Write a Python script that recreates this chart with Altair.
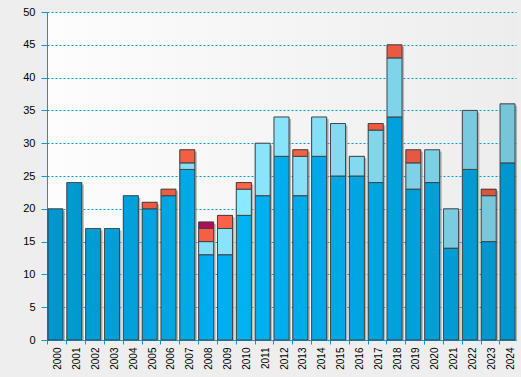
import altair as alt
import pandas as pd

years = ["2000", "2001", "2002", "2003", "2004", "2005", "2006", "2007", "2008",
         "2009", "2010", "2011", "2012", "2013", "2014", "2015", "2016", "2017",
         "2018", "2019", "2020", "2021", "2022", "2023", "2024"]
base_vals = [20, 24, 17, 17, 22, 20, 22, 26, 13, 13, 19, 22, 28, 22, 28, 25, 25, 24, 34, 23, 24, 14, 26, 15, 27]
light_vals = [0, 0, 0, 0, 0, 0, 0, 1, 2, 4, 4, 8, 6, 6, 6, 8, 3, 8, 9, 4, 5, 6, 9, 7, 9]
red_vals = [0, 0, 0, 0, 0, 1, 1, 2, 2, 2, 1, 0, 0, 1, 0, 0, 0, 1, 2, 2, 0, 0, 0, 1, 0]
crimson_vals = [0, 0, 0, 0, 0, 0, 0, 0, 1, 0, 0, 0, 0, 0, 0, 0, 0, 0, 0, 0, 0, 0, 0, 0, 0]
series_names = ["S1", "S2", "S3", "S4"]
series_colors = ["#00B2F2", "#8CE8FF", "#FF6347", "#B0105A"]
y_ticks = [0, 5, 10, 15, 20, 25, 30, 35, 40, 45, 50]

rows = []
for i, yr in enumerate(years):
    for k, vals in enumerate([base_vals, light_vals, red_vals, crimson_vals]):
        rows.append({"year": yr, "yr": int(yr), "series": series_names[k], "ord": k, "value": vals[i]})
df = pd.DataFrame(rows)

W, H = 469, 328
BLUE = "#0A96DC"

x_enc = alt.X(
    "year:O", sort=years,
    scale=alt.Scale(paddingInner=0.2, paddingOuter=0.05),
    axis=alt.Axis(title=None, labelAngle=270, labelAlign="right", labelBaseline="middle",
                  bandPosition=0, labelOffset=3, tickSize=4, labelPadding=3,
                  grid=False, domainColor=BLUE, tickColor=BLUE, labelFontSize=10),
)
y_scale = alt.Scale(domain=[0, 50], nice=False)
y_axis = alt.Axis(title=None, values=y_ticks, grid=True, gridColor=BLUE, gridDash=[2, 2],
                  gridWidth=1, tickSize=6, labelPadding=6, domainColor=BLUE, tickColor=BLUE,
                  labelFontSize=11)

basechart = alt.Chart(df).transform_filter("datum.value > 0")

shadow = basechart.mark_bar(color="#8C8C8C", opacity=0.6, xOffset=2, yOffset=2).encode(
    x=x_enc,
    y=alt.Y("sum(value):Q", scale=y_scale, axis=y_axis),
)
under = basechart.mark_bar(color="#000000").encode(
    x=x_enc,
    y=alt.Y("sum(value):Q", scale=y_scale, axis=y_axis),
)
bars = basechart.mark_bar(stroke="#444444", strokeWidth=1).encode(
    x=x_enc,
    y=alt.Y("value:Q", stack="zero", scale=y_scale, axis=y_axis),
    color=alt.Color("series:N", scale=alt.Scale(domain=series_names, range=series_colors), legend=None),
    order=alt.Order("ord:Q", sort="ascending"),
    opacity=alt.Opacity("yr:Q", scale=alt.Scale(domain=[2000, 2010, 2024], range=[0.85, 1.0, 0.85]), legend=None),
)

bg_expr = ("{gradient: 'linear', x1: 0, y1: 0, x2: 1, y2: 0, "
           "stops: [{offset: 0, color: '#FDFDFD'}, {offset: 1, color: '#EDEDED'}]}")

chart = alt.layer(shadow, under, bars).properties(
    width=W, height=H,
    autosize=alt.AutoSizeParams(type="none"),
    padding={"left": 47, "top": 12, "right": 5, "bottom": 37},
    background="#EEEEEE",
).configure_view(
    fill=alt.ExprRef(expr=bg_expr), stroke="transparent",
).configure_axis(
    labelFont="Liberation Sans", labelColor="#000000", domainWidth=1, tickWidth=1,
)

chart.save("out.html", embed_options={"renderer": "svg", "actions": False})
